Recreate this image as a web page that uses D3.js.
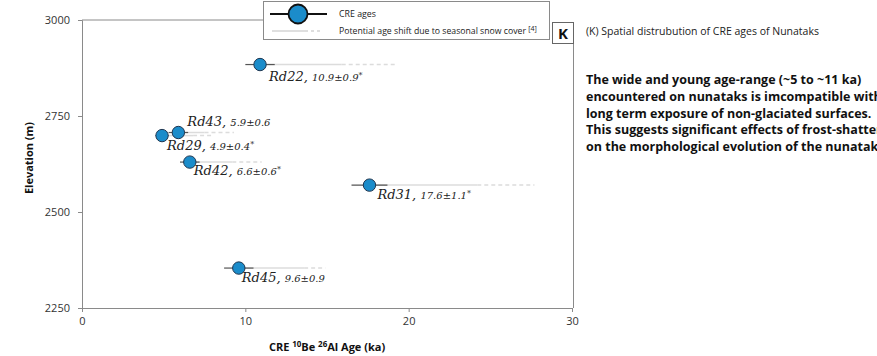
<!DOCTYPE html>
<html>
<head>
<meta charset="utf-8">
<script src="https://cdn.jsdelivr.net/npm/d3@7"></script>
<style>
  html, body { margin: 0; padding: 0; background: #fff; overflow: hidden; }
  svg { display: block; }
</style>
</head>
<body>
<svg id="chart" width="877" height="356"></svg>
<script>
// Nunatak samples: CRE ages (ka) with 1-sigma error and elevation (m)
const samples    = ["Rd22", "Rd43", "Rd29", "Rd42", "Rd31", "Rd45"];
const ages       = [10.9, 5.9, 4.9, 6.6, 17.6, 9.6];
const errors     = [0.9, 0.6, 0.4, 0.6, 1.1, 0.9];
const elevations = [2884, 2707, 2699, 2630, 2570, 2354];
const starred    = [true, false, true, true, true, false];
// Potential age shift due to seasonal snow cover: solid part end, dashed part end (ka)
const shiftSolidEnd = [15.9, 7.5, 6.8, 9.2, 24.2, 13.6];
const shiftDashEnd  = [19.2, 9.3, 8.0, 11.0, 27.7, 14.9];

const xTicks = [0, 10, 20, 30];
const yTicks = [2250, 2500, 2750, 3000];

const noteTitle = "(K) Spatial distrubution of CRE ages of Nunataks";
const noteLines = [
  "The wide and young age-range (~5 to ~11 ka)",
  "encountered on nunataks is imcompatible with",
  "long term exposure of non-glaciated surfaces.",
  "This suggests significant effects of frost-shattering",
  "on the morphological evolution of the nunataks"
];

// label placement relative to each point [dx, dy]
const labelOffset = {
  Rd22: [9, 16], Rd43: [9, -7], Rd29: [5, 14],
  Rd42: [4, 13], Rd31: [8, 14], Rd45: [3, 14]
};

const svg = d3.select("#chart");
const sans = "'Open Sans', 'Noto Sans', sans-serif";
const serif = "'DejaVu Serif', serif";
const axisGray = "#8a8a8a";

const x = d3.scaleLinear().domain([0, 30]).range([82, 572]);
const y = d3.scaleLinear().domain([2250, 3000]).range([308, 20]);

// frame: top edge (left part), right edge
svg.append("line").attr("x1", 82).attr("x2", 264).attr("y1", 20).attr("y2", 20)
  .attr("stroke", axisGray).attr("stroke-width", 1);
svg.append("line").attr("x1", 573.5).attr("x2", 573.5).attr("y1", 43).attr("y2", 308)
  .attr("stroke", axisGray).attr("stroke-width", 1);

// axes
const xAxis = svg.append("g").attr("transform", "translate(0,308)")
  .call(d3.axisBottom(x).tickValues(xTicks).tickSize(4).tickPadding(5).tickFormat(d3.format("d")));
const yAxis = svg.append("g").attr("transform", "translate(82,0)")
  .call(d3.axisLeft(y).tickValues(yTicks).tickSize(4).tickPadding(8).tickFormat(d3.format("d")));
[xAxis, yAxis].forEach(g => {
  g.select(".domain").attr("stroke", axisGray);
  g.selectAll(".tick line").attr("stroke", axisGray);
  g.selectAll(".tick text").attr("fill", "#333").style("font-family", sans).style("font-size", "11px");
});

// axis titles
const xt = svg.append("text").attr("x", 327).attr("y", 351).attr("text-anchor", "middle")
  .style("font-family", sans).style("font-size", "11px").style("font-weight", "bold").attr("fill", "#111");
xt.append("tspan").text("CRE ");
xt.append("tspan").text("10").attr("dy", -4).style("font-size", "8px");
xt.append("tspan").text("Be ").attr("dy", 4);
xt.append("tspan").text("26").attr("dy", -4).style("font-size", "8px");
xt.append("tspan").text("Al Age (ka)").attr("dy", 4);

svg.append("text").attr("transform", "translate(33,158) rotate(-90)").attr("text-anchor", "middle")
  .style("font-family", sans).style("font-size", "11px").style("font-weight", "bold").attr("fill", "#111")
  .text("Elevation (m)");

const rows = samples.map((s, i) => ({
  name: s, age: ages[i], err: errors[i], elev: elevations[i], star: starred[i],
  solid: shiftSolidEnd[i], dash: shiftDashEnd[i]
}));

// snow-cover shift lines
const marks = svg.append("g");
rows.forEach(d => {
  const cy = y(d.elev);
  marks.append("line").attr("x1", x(d.age)).attr("x2", x(d.solid)).attr("y1", cy).attr("y2", cy)
    .attr("stroke", "#dcdcdc").attr("stroke-width", 1.5);
  marks.append("line").attr("x1", x(d.solid)).attr("x2", x(d.dash)).attr("y1", cy).attr("y2", cy)
    .attr("stroke", "#dcdcdc").attr("stroke-width", 1.5).attr("stroke-dasharray", "4,3");
});
// error bars
rows.forEach(d => {
  const cy = y(d.elev);
  marks.append("line").attr("x1", x(d.age - d.err)).attr("x2", x(d.age + d.err)).attr("y1", cy).attr("y2", cy)
    .attr("stroke", "#555").attr("stroke-width", 1.2);
});
// points
marks.selectAll("circle").data(rows).join("circle")
  .attr("cx", d => x(d.age)).attr("cy", d => y(d.elev)).attr("r", 6.2)
  .attr("fill", "#1b8cca").attr("stroke", "#1d3550").attr("stroke-width", 1);

// labels
rows.forEach(d => {
  const [dx, dy] = labelOffset[d.name];
  const t = svg.append("text").attr("x", x(d.age) + dx).attr("y", y(d.elev) + dy)
    .style("font-family", serif).style("font-style", "italic").attr("fill", "#222");
  t.append("tspan").text(d.name + ", ").style("font-size", "13px");
  t.append("tspan").text(d.age.toFixed(1) + "±" + d.err.toFixed(1)).style("font-size", "10px");
  if (d.star) t.append("tspan").text("*").attr("dy", -3).style("font-size", "8px");
});

// legend
const lg = svg.append("g");
lg.append("rect").attr("x", 263.5).attr("y", 1.5).attr("width", 286).attr("height", 38)
  .attr("fill", "#fff").attr("stroke", "#8a8a8a").attr("stroke-width", 1);
lg.append("line").attr("x1", 270).attr("x2", 327).attr("y1", 14).attr("y2", 14)
  .attr("stroke", "#111").attr("stroke-width", 2);
lg.append("circle").attr("cx", 298).attr("cy", 14).attr("r", 9.5)
  .attr("fill", "#1b8cca").attr("stroke", "#111").attr("stroke-width", 1.8);
lg.append("line").attr("x1", 272).attr("x2", 305).attr("y1", 31).attr("y2", 31)
  .attr("stroke", "#d4d4d4").attr("stroke-width", 1.5);
lg.append("line").attr("x1", 305).attr("x2", 320).attr("y1", 31).attr("y2", 31)
  .attr("stroke", "#d4d4d4").attr("stroke-width", 1.5).attr("stroke-dasharray", "3,3");
lg.append("text").attr("x", 339).attr("y", 17).text("CRE ages")
  .style("font-family", sans).style("font-size", "8.8px").attr("fill", "#222");
const l2 = lg.append("text").attr("x", 339).attr("y", 34)
  .style("font-family", sans).style("font-size", "8.7px").attr("fill", "#222");
l2.append("tspan").text("Potential age shift due to seasonal snow cover ");
l2.append("tspan").text("[4]").attr("dy", -3).style("font-size", "7px");

// panel tag
svg.append("rect").attr("x", 552.5).attr("y", 22.5).attr("width", 21).attr("height", 21)
  .attr("fill", "#fff").attr("stroke", "#666").attr("stroke-width", 1);
svg.append("text").attr("x", 563).attr("y", 38.5).attr("text-anchor", "middle").text("K")
  .style("font-family", sans).style("font-size", "15px").style("font-weight", "bold").attr("fill", "#111");

// side notes
svg.append("text").attr("x", 586).attr("y", 35).text(noteTitle)
  .style("font-family", sans).style("font-size", "10.5px").attr("fill", "#222");
svg.append("g").selectAll("text").data(noteLines).join("text")
  .attr("x", 586).attr("y", (d, i) => 84 + i * 16.8).text(d => d)
  .style("font-family", sans).style("font-size", "12.5px").style("font-weight", "bold").attr("fill", "#111");
</script>
</body>
</html>
